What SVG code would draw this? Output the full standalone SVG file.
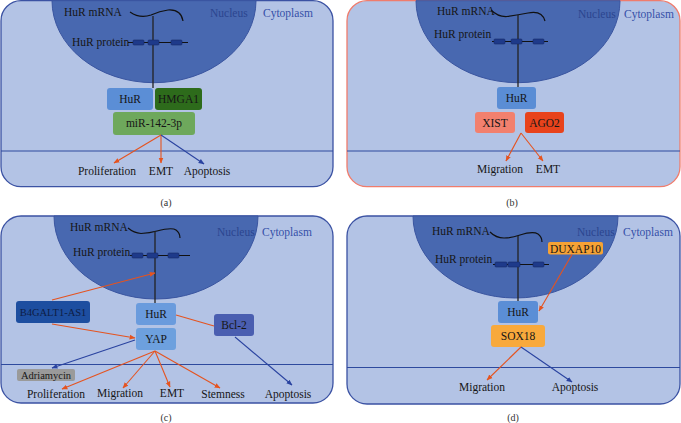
<svg xmlns="http://www.w3.org/2000/svg" width="681" height="423" viewBox="0 0 681 423">
<defs>
<style>
text{font-family:"Liberation Serif","Times New Roman",serif;font-size:11.5px;fill:#161616}
.c{text-anchor:middle}
.sm{font-size:10.5px}
.nuc{fill:#2b458f}
.cyt{fill:#3550a8}
.cap{font-size:10px;fill:#333}
.panel{fill:#b3c3e5;stroke:#3b52a3;stroke-width:1.3}
.panelb{fill:#b3c3e5;stroke:#f07c6c;stroke-width:1.3}
.nucleus{fill:#4868b0;stroke:#3a55a0;stroke-width:1}
.div{stroke:#2e4a9e;stroke-width:1.2}
.mrna{fill:none;stroke:#111;stroke-width:1.2}
.stem{stroke:#222;stroke-width:1.3}
.pl{stroke:#111;stroke-width:1}
.pb{fill:#1e3a8a;stroke:#152a66;stroke-width:0.6}
.red{stroke:#e5531f;stroke-width:1.1;fill:none}
.blue{stroke:#2a43a0;stroke-width:1.1;fill:none}
.ra{marker-end:url(#ar)}
.ba{marker-end:url(#ab)}
</style>
<marker id="ar" viewBox="0 0 10 10" refX="9" refY="5" markerWidth="6" markerHeight="6" markerUnits="userSpaceOnUse" orient="auto"><path d="M0,1 L10,5 L0,9 Z" fill="#e5531f"/></marker>
<marker id="ab" viewBox="0 0 10 10" refX="9" refY="5" markerWidth="6" markerHeight="6" markerUnits="userSpaceOnUse" orient="auto"><path d="M0,1 L10,5 L0,9 Z" fill="#2a43a0"/></marker>
</defs>
<rect width="681" height="423" fill="#ffffff"/>

<!-- Panel a -->
<g id="panel-a">
<rect class="panel" x="1" y="0.7" width="332" height="186" rx="20"/>
<path class="nucleus" d="M52,0.7 A102,82 0 0 0 256,0.7 Z"/>
<line class="div" x1="1" y1="151" x2="333" y2="151"/>
<text x="64" y="16">HuR mRNA</text>
<text x="72" y="45.5">HuR protein</text>
<text class="nuc" x="210" y="17">Nucleus</text>
<text class="cyt" x="263" y="17">Cytoplasm</text>
<path class="mrna" d="M130,12 Q140,19 151,15 Q160,11 168,10 Q181,9 183,21"/>
<line class="stem" x1="153" y1="16" x2="153" y2="88"/>
<line class="pl" x1="128" y1="42.5" x2="188" y2="42.5"/>
<rect class="pb" x="133" y="40" width="11" height="5" rx="1"/>
<rect class="pb" x="148" y="40" width="11" height="5" rx="1"/>
<rect class="pb" x="171" y="40" width="11" height="5" rx="1"/>
<text class="cap c" x="166" y="206">(a)</text>
</g>
<g id="a-HuR"><rect x="107" y="88" width="46" height="22" rx="3" fill="#5b8ed6"/><text class="c" x="130" y="103">HuR</text></g>
<g id="a-HMGA1"><rect x="155" y="88" width="47" height="22" rx="3" fill="#2d6b1b"/><text class="c" x="178.5" y="103">HMGA1</text></g>
<g id="a-miR"><rect x="113" y="112" width="82" height="23" rx="3" fill="#6ea85c"/><text class="c" x="154" y="127">miR-142-3p</text></g>
<g id="a-Proliferation"><text class="c" x="107" y="175">Proliferation</text></g>
<g id="a-EMT"><text class="c" x="161" y="175">EMT</text></g>
<g id="a-Apoptosis"><text class="c" x="207" y="175">Apoptosis</text></g>

<!-- Panel b -->
<g id="panel-b">
<rect class="panelb" x="347" y="0.7" width="333" height="186" rx="20"/>
<path class="nucleus" d="M416,0.7 A102,82 0 0 0 620,0.7 Z"/>
<line class="div" x1="347" y1="151" x2="680" y2="151"/>
<text x="437" y="14.5">HuR mRNA</text>
<text x="434" y="38">HuR protein</text>
<text class="nuc" x="578" y="17.5">Nucleus</text>
<text class="cyt" x="624" y="17.5">Cytoplasm</text>
<path class="mrna" d="M491,10 Q498,17 507,16.5 Q518,15 528,13 Q542,10 545,21"/>
<line class="stem" x1="518" y1="15" x2="518" y2="87"/>
<line class="pl" x1="492" y1="41.5" x2="548" y2="41.5"/>
<rect class="pb" x="494" y="39" width="11" height="5" rx="1"/>
<rect class="pb" x="511" y="39" width="11" height="5" rx="1"/>
<rect class="pb" x="533" y="39" width="11" height="5" rx="1"/>
<text class="cap c" x="512" y="206">(b)</text>
</g>
<g id="b-HuR"><rect x="497" y="87" width="39" height="22" rx="3" fill="#5a8dd5"/><text class="c" x="516.5" y="102">HuR</text></g>
<g id="b-XIST"><rect x="475" y="112" width="40" height="21" rx="3" fill="#f2806e"/><text class="c" x="495" y="126.5">XIST</text></g>
<g id="b-AGO2"><rect x="525" y="112" width="39" height="21" rx="3" fill="#e8431c"/><text class="c" x="544.5" y="126.5">AGO2</text></g>
<g id="b-Migration"><text class="c" x="500" y="173">Migration</text></g>
<g id="b-EMT"><text class="c" x="548" y="173">EMT</text></g>

<!-- Panel c -->
<g id="panel-c">
<rect class="panel" x="1" y="216" width="332" height="187" rx="20"/>
<path class="nucleus" d="M54,216 A102,83 0 0 0 258,216 Z"/>
<line class="div" x1="1" y1="364.5" x2="333" y2="364.5"/>
<text x="70" y="231">HuR mRNA</text>
<text x="73" y="256">HuR protein</text>
<text class="nuc" x="217" y="235.5">Nucleus</text>
<text class="cyt" x="262" y="235.5">Cytoplasm</text>
<path class="mrna" d="M128,228 Q134,233 141,233.5 Q150,233 157,231 Q172,227 176,230 Q180,233 180,238"/>
<line class="stem" x1="155" y1="231" x2="155" y2="303"/>
<line class="pl" x1="130" y1="255.5" x2="190" y2="255.5"/>
<rect class="pb" x="132" y="253" width="11" height="5" rx="1"/>
<rect class="pb" x="147" y="253" width="11" height="5" rx="1"/>
<rect class="pb" x="168" y="253" width="11" height="5" rx="1"/>
<text class="cap c" x="166" y="421">(c)</text>
</g>
<g id="c-HuR"><rect x="136" y="303" width="40" height="22" rx="3" fill="#6a9bdd"/><text class="c" x="156" y="318">HuR</text></g>
<g id="c-YAP"><rect x="136" y="328" width="40" height="22" rx="3" fill="#6da0de"/><text class="c" x="156" y="343">YAP</text></g>
<g id="c-B4GALT1-AS1"><rect x="16" y="301" width="74" height="22" rx="3" fill="#1d4ea0"/><text class="c sm" x="53" y="316" style="fill:#0e1d45">B4GALT1-AS1</text></g>
<g id="c-Bcl-2"><rect x="214" y="314" width="40" height="22" rx="3" fill="#4a5eb0"/><text class="c" x="234" y="329">Bcl-2</text></g>
<g id="c-Adriamycin"><rect x="17" y="369" width="58" height="12" rx="2" fill="#9a9a9a"/><text class="c sm" x="46" y="378.5">Adriamycin</text></g>
<g id="c-Proliferation"><text class="c" x="56" y="398">Proliferation</text></g>
<g id="c-Migration"><text class="c" x="120" y="397">Migration</text></g>
<g id="c-EMT"><text class="c" x="172" y="397">EMT</text></g>
<g id="c-Stemness"><text class="c" x="223" y="398">Stemness</text></g>
<g id="c-Apoptosis"><text class="c" x="288" y="398">Apoptosis</text></g>

<!-- Panel d -->
<g id="panel-d">
<rect class="panel" x="347" y="216" width="333" height="188" rx="20"/>
<path class="nucleus" d="M413,216 A102.5,82 0 0 0 618,216 Z"/>
<line class="div" x1="347" y1="367.5" x2="680" y2="367.5"/>
<text x="432" y="234.5">HuR mRNA</text>
<text x="435" y="262.5">HuR protein</text>
<text class="nuc" x="577" y="236">Nucleus</text>
<text class="cyt" x="623" y="236">Cytoplasm</text>
<path class="mrna" d="M490,232 Q496,238 504,238 Q512,238 520,235 Q533,231 538,234 Q542,237 542,242"/>
<line class="stem" x1="518" y1="236" x2="518" y2="301"/>
<line class="pl" x1="493" y1="264.5" x2="549" y2="264.5"/>
<rect class="pb" x="495" y="262" width="12" height="5" rx="1"/>
<rect class="pb" x="508" y="262" width="12" height="5" rx="1"/>
<rect class="pb" x="533" y="262" width="11" height="5" rx="1"/>
<text class="cap c" x="513" y="421">(d)</text>
</g>
<g id="d-DUXAP10"><rect x="548" y="242" width="55" height="12.5" rx="2" fill="#f6a235"/><text class="c" x="575.5" y="252.5">DUXAP10</text></g>
<g id="d-HuR"><rect x="498" y="301" width="40" height="22" rx="3" fill="#5b8ed6"/><text class="c" x="518" y="316">HuR</text></g>
<g id="d-SOX18"><rect x="491" y="325" width="54" height="22" rx="3" fill="#f8a93c"/><text class="c" x="518" y="340">SOX18</text></g>
<g id="d-Migration"><text class="c" x="482" y="391">Migration</text></g>
<g id="d-Apoptosis"><text class="c" x="575" y="391">Apoptosis</text></g>

<!-- Connectors -->
<g id="connectors">
<line class="red ra" x1="161" y1="135" x2="114" y2="163"/>
<line class="red ra" x1="161" y1="135" x2="161" y2="163"/>
<line class="blue ba" x1="161" y1="135" x2="204" y2="164"/>

<line class="red ra" x1="521" y1="133" x2="506" y2="161"/>
<line class="red ra" x1="521" y1="133" x2="543" y2="161"/>

<line class="red ra" x1="52" y1="300" x2="155" y2="273"/>
<line class="red ra" x1="52" y1="324" x2="135" y2="338"/>
<line class="red" x1="176" y1="315" x2="214" y2="326"/>
<line class="blue ba" x1="235" y1="337" x2="292" y2="385"/>
<line class="blue ba" x1="135" y1="340" x2="52" y2="368"/>
<line class="red ra" x1="155" y1="351" x2="62" y2="389"/>
<line class="red ra" x1="155" y1="351" x2="123" y2="388"/>
<line class="red ra" x1="155" y1="351" x2="170" y2="387"/>
<line class="red ra" x1="155" y1="351" x2="220" y2="388"/>

<line class="red ra" x1="572" y1="254.5" x2="539" y2="311"/>
<line class="red ra" x1="521" y1="347" x2="487" y2="380"/>
<line class="blue ba" x1="521" y1="347" x2="572" y2="382"/>
</g>
</svg>
